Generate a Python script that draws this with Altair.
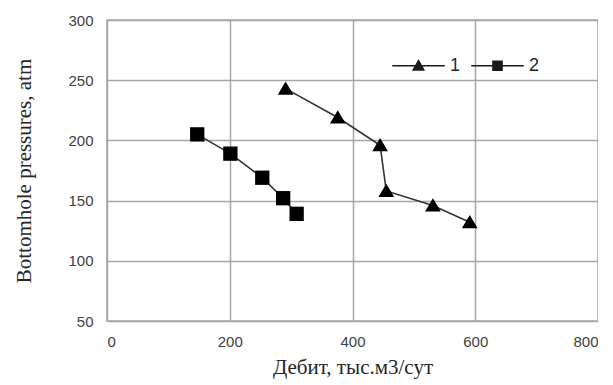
import altair as alt
import pandas as pd

# Series 1 (triangles)
s1_x = [291, 376, 445, 455, 531, 591]
s1_y = [243, 219, 196, 158, 146, 132]
# Series 2 (squares)
s2_x = [147, 201, 253, 287, 309]
s2_y = [205, 189, 169, 152, 139]

series_names = ["1", "2"]
x_ticks = [0, 200, 400, 600, 800]
y_ticks = [50, 100, 150, 200, 250, 300]

rows = []
for i, (x, y) in enumerate(zip(s1_x, s1_y)):
    rows.append({"q": x, "p": y, "s": "1", "o": i})
for i, (x, y) in enumerate(zip(s2_x, s2_y)):
    rows.append({"q": x, "p": y, "s": "2", "o": i})
df = pd.DataFrame(rows)

xenc = alt.X("q:Q", scale=alt.Scale(domain=[0, 800], nice=False),
             axis=alt.Axis(values=x_ticks, title="Дебит, тыс.м3/сут"))
yenc = alt.Y("p:Q", scale=alt.Scale(domain=[50, 300], nice=False, zero=False),
             axis=alt.Axis(values=y_ticks, title="Bottomhole pressures, atm"))

base = alt.Chart(df)

lines = base.mark_line(color="#333333", strokeWidth=1.6).encode(
    x=xenc, y=yenc, detail="s:N", order="o:Q"
)

tri = "M0,-1L1.1,0.85L-1.1,0.85Z"
sq = "M-1,-1H1V1H-1Z"
points = base.mark_point(filled=True, color="black", opacity=1, size=205).encode(
    x=xenc, y=yenc,
    shape=alt.Shape("s:N", scale=alt.Scale(domain=series_names, range=[tri, sq]), legend=None),
)

# legend glyphs: horizontal line plus a marker drawn as closely spaced strokes (solid look)
def legend_tri():
    top, bot, hw = -0.40, 0.34, 0.42
    p = "M-2.1,0H2.1M0,%.2fL%.2f,%.2fL-%.2f,%.2fZ" % (top, hw, bot, hw, bot)
    y = top + 0.08
    while y < bot:
        w = hw * (y - top) / (bot - top)
        p += "M-%.3f,%.3fH%.3f" % (w, y, w)
        y += 0.08
    return p

def legend_sq():
    h = 0.36
    p = "M-2.1,0H2.1M-%.2f,-%.2fH%.2fV%.2fH-%.2fZ" % (h, h, h, h, h)
    y = -h + 0.08
    while y < h:
        p += "M-%.2f,%.3fH%.2f" % (h, y, h)
        y += 0.08
    return p

legend_layer = base.transform_filter("false").mark_point(
    filled=False, color="#1a1a1a", opacity=1, size=625, strokeWidth=1.6
).encode(
    x=xenc, y=yenc,
    shape=alt.Shape("s:N", scale=alt.Scale(domain=series_names, range=[legend_tri(), legend_sq()]),
                    legend=alt.Legend(title=None, orient="none", legendX=298, legendY=32,
                                      direction="horizontal", symbolSize=625,
                                      symbolStrokeColor="#1a1a1a", symbolStrokeWidth=1.6,
                                      symbolOpacity=1,
                                      labelFontSize=18,
                                      labelFont="Liberation Sans", labelColor="#262626",
                                      labelOffset=18, columnPadding=7)),
)

chart = alt.layer(lines, points, legend_layer).resolve_scale(shape="independent").properties(
    width=491, height=301,
    padding={"left": 5, "top": 5, "right": 0, "bottom": 5}
).configure_view(stroke="#a6a6a6", strokeWidth=1.5).configure_axis(
    grid=True, gridColor="#a6a6a6", gridWidth=1.5, domain=False, ticks=False,
    labelFont="Liberation Sans", labelFontSize=15, labelColor="#404040",
    titleFont="Liberation Serif", titleFontSize=21, titleFontWeight="normal", titleColor="#262626"
).configure_axisX(labelPadding=13, titlePadding=7).configure_axisY(labelPadding=14, titlePadding=33)

chart.save("out.html", embed_options={"renderer": "svg", "actions": False})
